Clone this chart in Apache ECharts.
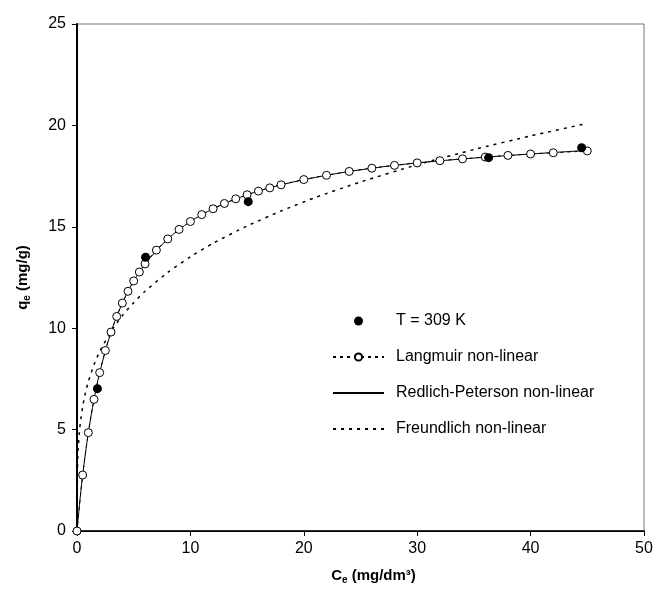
<!DOCTYPE html>
<html>
<head>
<meta charset="utf-8">
<script src="https://cdn.jsdelivr.net/npm/echarts@6/dist/echarts.min.js"></script>
<style>
  html, body { margin: 0; padding: 0; background: #fff; }
  #container { width: 657px; height: 595px; }
</style>
</head>
<body>
<div id="container"></div>
<script>
  // experimental points, T = 309 K
  let ceObs = [1.8, 6.05, 15.1, 36.3, 44.5];
  let qeObs = [7.02, 13.5, 16.24, 18.41, 18.9];

  // Langmuir non-linear (open circles)
  let langC = [0, 0.5, 1, 1.5, 2, 2.5, 3, 3.5, 4, 4.5, 5, 5.5, 6, 7, 8, 9, 10, 11, 12, 13, 14, 15, 16, 17, 18, 20, 22, 24, 26, 28, 30, 32, 34, 36, 38, 40, 42, 45];
  let langQ = [0, 2.76, 4.85, 6.49, 7.81, 8.90, 9.81, 10.58, 11.24, 11.82, 12.33, 12.77, 13.17, 13.85, 14.40, 14.87, 15.26, 15.60, 15.89, 16.15, 16.38, 16.58, 16.76, 16.92, 17.07, 17.33, 17.54, 17.73, 17.89, 18.03, 18.15, 18.26, 18.35, 18.44, 18.52, 18.59, 18.65, 18.74];

  // Redlich-Peterson non-linear (solid)
  let rpC = [0, 0.25, 0.5, 1, 1.5, 2, 3, 4, 5, 6, 8, 10, 12, 15, 18, 22, 26, 30, 35, 40, 44.5];
  let rpQ = [0, 1.48, 2.76, 4.85, 6.49, 7.81, 9.81, 11.24, 12.33, 13.17, 14.40, 15.26, 15.89, 16.58, 17.07, 17.54, 17.89, 18.15, 18.39, 18.59, 18.75];

  // Freundlich non-linear (dotted)
  let frC = [0, 0.05, 0.1, 0.2, 0.3, 0.5, 0.75, 1, 1.5, 2, 3, 4, 5, 6, 8, 10, 12, 15, 18, 21, 25, 30, 35, 40, 45];
  let frQ = [0, 3.35, 4.02, 4.82, 5.37, 6.14, 6.83, 7.37, 8.20, 8.85, 9.84, 10.62, 11.26, 11.82, 12.75, 13.52, 14.19, 15.04, 15.78, 16.44, 17.21, 18.06, 18.81, 19.48, 20.10];

  function pairs(xs, ys) {
    return xs.map(function (x, i) { return [x, ys[i]]; });
  }

  let font = 'Liberation Sans, Arial, sans-serif';
  let myChart = echarts.init(document.getElementById('container'));

  let titleRich = {
    b: { fontSize: 15, fontWeight: 'bold', fontFamily: font, color: '#000', lineHeight: 18 },
    s: { fontSize: 10, fontWeight: 'bold', fontFamily: font, color: '#000', verticalAlign: 'bottom', lineHeight: 6 }
  };

  // lines without markers: hide the marker the legend would draw
  let noMark = { opacity: 0 };

  let option = {
    backgroundColor: '#fff',
    animation: false,
    grid: {
      left: 77, right: 13, top: 24, bottom: 64,
      show: true, borderColor: '#777', borderWidth: 1
    },
    legend: {
      orient: 'vertical',
      left: 327,
      top: 308,
      itemWidth: 51,
      itemHeight: 9,
      itemGap: 20,
      textStyle: { fontSize: 16, fontFamily: font, color: '#000', padding: [0, 0, 0, 7] },
      data: [
        { name: 'T = 309 K' },
        { name: 'Langmuir non-linear' },
        { name: 'Redlich-Peterson non-linear', itemStyle: noMark },
        { name: 'Freundlich non-linear', itemStyle: noMark }
      ]
    },
    xAxis: [{
      type: 'value',
      min: 0, max: 50, interval: 10,
      name: '{b|C}{s|e}{b| (mg/dm³)}',
      nameLocation: 'middle',
      nameGap: 36,
      nameTextStyle: { rich: titleRich, padding: [0, 0, 0, 26] },
      axisLine: { onZero: false, lineStyle: { color: '#000', width: 1.5 } },
      axisTick: { show: true, length: 5, lineStyle: { color: '#000' } },
      axisLabel: { margin: 10, fontSize: 16, fontFamily: font, color: '#000' },
      splitLine: { show: false }
    }, {
      type: 'value',
      position: 'top',
      min: 0, max: 50,
      axisLine: { show: true, lineStyle: { color: '#000', width: 1 } },
      axisTick: { show: false },
      axisLabel: { show: false },
      splitLine: { show: false }
    }],
    yAxis: {
      type: 'value',
      min: 0, max: 25, interval: 5,
      name: '{b|q}{s|e}{b| (mg/g)}',
      nameLocation: 'middle',
      nameGap: 45,
      nameTextStyle: { rich: titleRich },
      axisLine: { onZero: false, lineStyle: { color: '#000', width: 2 } },
      axisTick: { show: true, length: 5, lineStyle: { color: '#000' } },
      axisLabel: { margin: 11, fontSize: 16, fontFamily: font, color: '#000' },
      splitLine: { show: false }
    },
    series: [{
      name: 'Freundlich non-linear',
      type: 'line',
      data: pairs(frC, frQ),
      showSymbol: false,
      symbol: 'none',
      smooth: 0.2,
      lineStyle: { color: '#000', width: 1.5, type: [3, 5] },
      itemStyle: { color: '#000' },
      z: 2
    }, {
      name: 'Redlich-Peterson non-linear',
      type: 'line',
      data: pairs(rpC, rpQ),
      showSymbol: false,
      symbol: 'none',
      smooth: 0.3,
      lineStyle: { color: '#000', width: 1 },
      itemStyle: { color: '#000' },
      z: 3
    }, {
      name: 'Langmuir non-linear',
      type: 'line',
      data: pairs(langC, langQ),
      symbol: 'circle',
      symbolSize: 8,
      showAllSymbol: true,
      smooth: 0.3,
      lineStyle: { color: '#000', width: 1, type: [3, 4] },
      itemStyle: { color: '#fff', borderColor: '#000', borderWidth: 1 },
      z: 4
    }, {
      name: 'T = 309 K',
      type: 'scatter',
      data: pairs(ceObs, qeObs),
      symbol: 'circle',
      symbolSize: 9,
      itemStyle: { color: '#000', opacity: 1 },
      z: 5
    }]
  };

  myChart.setOption(option);
</script>
</body>
</html>
